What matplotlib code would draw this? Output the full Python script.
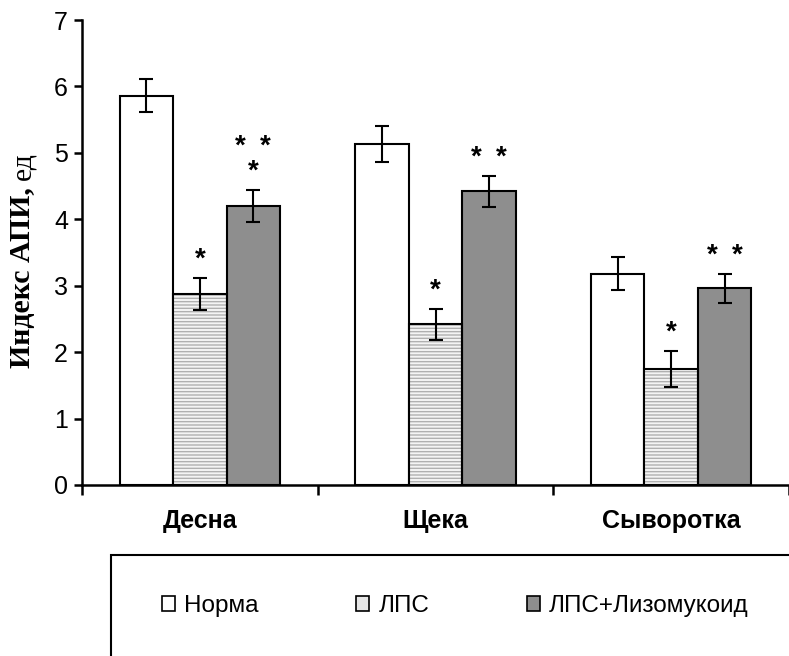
#! /usr/bin/env python3
'''
Индекс АПИ: grouped bars with error bars and significance stars
'''

import numpy as np
import matplotlib
matplotlib.use('Agg')
import matplotlib.pyplot as plt
from matplotlib.patches import Patch, Rectangle


categories = ['Десна', 'Щека', 'Сыворотка']
series = ['Норма', 'ЛПС', 'ЛПС+Лизомукоид']

norma = [5.86, 5.13, 3.18]
lps = [2.88, 2.42, 1.75]
lps_liz = [4.20, 4.42, 2.96]

norma_err = [0.25, 0.27, 0.25]
lps_err = [0.24, 0.23, 0.27]
lps_liz_err = [0.24, 0.23, 0.22]

# significance marks over each bar (series x category), rows top to bottom
stars = [
    ['', '', ''],
    ['*', '*', '*'],
    ['* *\n*', '* *', '* *'],
]

plt.rcParams['font.family'] = ['Liberation Sans', 'DejaVu Sans']

SERIF = ['Liberation Serif', 'DejaVu Serif']


def draw_stars(ax, xc, top, mark):
    rows = mark.split('\n')[::-1]
    for k, row in enumerate(rows):
        n = row.count('*')
        for j in range(n):
            dx = (j - (n - 1) / 2) * 0.106
            ax.annotate('*', (xc + dx, top), xytext=(0, (11 + 25 * k) * 0.72),
                        textcoords='offset points', ha='center',
                        va='baseline', fontsize=20, fontweight='bold',
                        zorder=5)


def main():
    fig = plt.figure(figsize=(7.89, 6.56), dpi=100)
    ax = fig.add_axes([82 / 789, 171 / 656, 707 / 789, 465 / 656])

    values = [norma, lps, lps_liz]
    errors = [norma_err, lps_err, lps_liz_err]
    width = 0.2266
    x = np.arange(len(categories)) + 0.5
    offsets = [-width, 0, width]

    for i, (vals, errs, off) in enumerate(zip(values, errors, offsets)):
        pos = x + off
        if i == 0:
            ax.bar(pos, vals, width, color='white', edgecolor='black',
                   linewidth=1.5, zorder=2)
        elif i == 1:
            ax.bar(pos, vals, width, color='#f4f4f4', edgecolor='#b0b0b0',
                   hatch='-----', linewidth=0, zorder=2)
            ax.bar(pos, vals, width, color='none', edgecolor='black',
                   linewidth=1.5, zorder=3)
        else:
            ax.bar(pos, vals, width, color='#8e8e8e', edgecolor='black',
                   linewidth=1.5, zorder=2)
        ax.errorbar(pos, vals, yerr=errs, fmt='none', ecolor='black',
                    elinewidth=1.5, capsize=4.9, capthick=1.5, zorder=4)
        for p, v, e, s in zip(pos, vals, errs, stars[i]):
            if s:
                draw_stars(ax, p, v + e, s)

    ax.set_xlim(0, 707 / 237)
    ax.set_ylim(0, 7)
    ax.set_yticks(range(8))
    ax.set_xticks([0, 1, 2, 3])
    ax.set_xticklabels([])
    for xc, name in zip(x, categories):
        ax.text(xc, -0.54, name, ha='center', va='center', fontsize=18,
                fontweight='bold')

    for side in ['top', 'right']:
        ax.spines[side].set_visible(False)
    for side in ['left', 'bottom']:
        ax.spines[side].set_linewidth(1.8)
    ax.tick_params(axis='y', direction='out', length=6, width=1.8,
                   labelsize=18, pad=4)
    ax.tick_params(axis='x', direction='out', length=7, width=1.8)

    # y label: bold part plus plain unit, stacked along the rotated line
    t1 = fig.text(23 / 789, 288 / 656, 'Индекс АПИ, ', rotation=90,
                  ha='center', va='bottom', fontsize=21.5, fontweight='bold',
                  family=SERIF)
    renderer = fig.canvas.get_renderer()
    bb = t1.get_window_extent(renderer)
    fig.text(23 / 789, bb.y1 / fig.bbox.height, 'ед', rotation=90,
             ha='center', va='bottom', fontsize=21.5, family=SERIF)

    # legend frame (runs off the figure edge like the original)
    fig.patches.append(Rectangle((111 / 789, -0.1), 1.0, 0.1 + 101 / 656,
                                 transform=fig.transFigure, fill=False,
                                 edgecolor='black', linewidth=1.5))

    handles = [
        Patch(facecolor='white', edgecolor='black', linewidth=1.2),
        Patch(facecolor='#e6e6e6', edgecolor='black', linewidth=1.2),
        Patch(facecolor='#8e8e8e', edgecolor='black', linewidth=1.2),
    ]
    fig.legend(handles, series, loc='center left',
               bbox_to_anchor=(162 / 789, 50 / 656), ncol=3, frameon=False,
               fontsize=17.5, handlelength=0.55, handleheight=0.55,
               handletextpad=0.37, columnspacing=4.0, borderpad=0,
               borderaxespad=0)

    fig.savefig('out.png', dpi=100)


if __name__ == '__main__':
    main()
